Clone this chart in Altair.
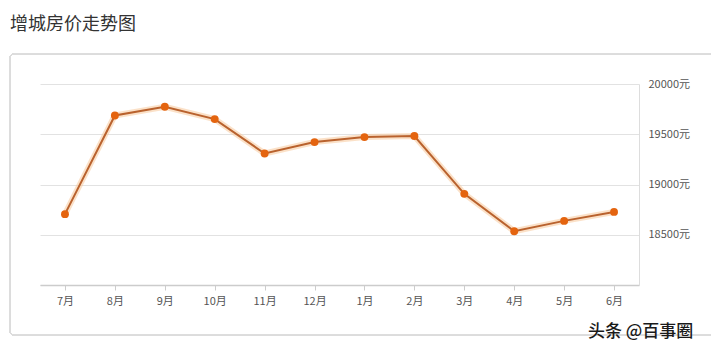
import altair as alt
import pandas as pd

months = ["7月", "8月", "9月", "10月", "11月", "12月", "1月", "2月", "3月", "4月", "5月", "6月"]
prices = [18705, 19687, 19774, 19651, 19308, 19422, 19472, 19482, 18907, 18535, 18638, 18727]
y_ticks = [18000, 18500, 19000, 19500, 20000]
title_text = "增城房价走势图"
watermark = "头条 @百事圈"

df = pd.DataFrame({"month": months, "price": prices})

FONT = "Noto Sans CJK SC"

x_enc = alt.X("month:N", sort=months, title=None,
              scale=alt.Scale(paddingInner=0, paddingOuter=0),
              axis=alt.Axis(labelAngle=0, labelFontSize=11, labelColor="#555",
                            labelPadding=5, tickSize=5, tickColor="#ccc",
                            domainColor="#ccc", domainWidth=1.5, grid=False))
y_enc = alt.Y("price:Q", title=None,
              scale=alt.Scale(domain=[18000, 20000], nice=False, zero=False),
              axis=alt.Axis(orient="right", values=y_ticks, format="d",
                            labelExpr="datum.value == 18000 ? '' : datum.value + '元'",
                            labelFontSize=11, labelColor="#555", labelPadding=9,
                            ticks=False, domainColor="#ddd", gridColor="#e2e2e2"))

base = alt.Chart(df)

card = base.mark_rect(fill="transparent", stroke="#dcdcdc", strokeWidth=1, cornerRadius=4).encode(
    x=alt.value(-30), x2=alt.value(690), y=alt.value(-30), y2=alt.value(251)
)

glow = base.mark_line(color="#f7c99a", strokeWidth=6, opacity=0.55).encode(x=x_enc, y=y_enc)
line = base.mark_line(color="#b9622e", strokeWidth=2).encode(x=x_enc, y=y_enc)
pts = base.mark_point(filled=True, color="#e4640f", size=62, opacity=1).encode(x=x_enc, y=y_enc)

title = alt.Chart(pd.DataFrame({"t": [title_text]})).mark_text(
    align="left", baseline="middle", fontSize=18, color="#333", font=FONT
).encode(x=alt.value(-30), y=alt.value(-59), text="t:N")

wm = alt.Chart(pd.DataFrame({"t": [watermark]})).mark_text(
    align="left", baseline="middle", fontSize=17, color="#1a1a1a", font=FONT, fontWeight=500
).encode(x=alt.value(548), y=alt.value(248), text="t:N")

chart = alt.layer(card, glow, line, pts, title, wm).properties(
    width=599, height=201,
    autosize=alt.AutoSizeParams(type="none"),
    padding={"left": 40, "top": 84, "right": 72, "bottom": 67},
    background="white",
).configure(font=FONT).configure_view(stroke=None)

chart.save("out.html", embed_options={"renderer": "svg", "actions": False})
